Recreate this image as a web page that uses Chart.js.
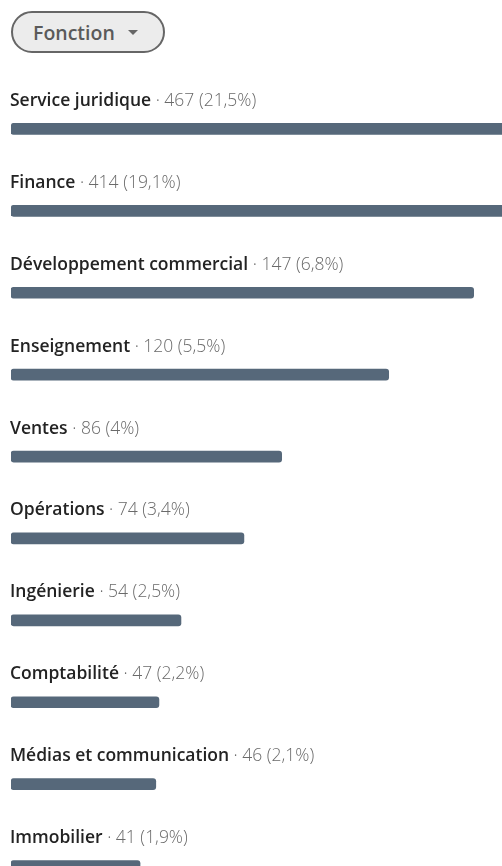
<!DOCTYPE html>
<html>
<head>
<meta charset="utf-8">
<script src="https://cdn.jsdelivr.net/npm/chart.js@4.4.0/dist/chart.umd.min.js"></script>
<style>
  html, body { margin: 0; padding: 0; background: #fff; width: 502px; height: 866px; overflow: hidden; }
  #filter {
    position: absolute; left: 11px; top: 11px; width: 150px; height: 38px;
    box-sizing: content-box; border: 2px solid #666; border-radius: 22px; background: #ececec;
    font: 600 19.5px "Open Sans", sans-serif; color: #5a5a5a;
    display: flex; align-items: center; padding: 0;
  }
  #filter span { margin-left: 20px; }
  #filter i {
    display: inline-block; margin-left: 13px; margin-top: 1px; width: 0; height: 0;
    border-left: 5px solid transparent; border-right: 5px solid transparent; border-top: 5px solid #666;
  }
  #wrap { position: absolute; left: 0; top: 88px; width: 502px; height: 819px; }
</style>
</head>
<body>
<div id="filter"><span>Fonction</span><i></i></div>
<div id="wrap"><canvas id="c"></canvas></div>
<script>
const categories = ["Service juridique", "Finance", "Développement commercial", "Enseignement", "Ventes",
  "Opérations", "Ingénierie", "Comptabilité", "Médias et communication", "Immobilier"];
const counts = [467, 414, 147, 120, 86, 74, 54, 47, 46, 41];
const shares = ["21,5%", "19,1%", "6,8%", "5,5%", "4%", "3,4%", "2,5%", "2,2%", "2,1%", "1,9%"];

// draws "Name · n (x%)" above each bar
const rowLabels = {
  id: "rowLabels",
  afterDatasetsDraw(chart) {
    const ctx = chart.ctx;
    const y = chart.scales.y;
    const left = 10;
    ctx.save();
    ctx.textBaseline = "alphabetic";
    categories.forEach((name, i) => {
      const base = y.getPixelForValue(i) - 23;
      ctx.font = '600 17.5px "Open Sans", sans-serif';
      ctx.fillStyle = "#232323";
      ctx.fillText(name, left, base);
      const w = ctx.measureText(name).width;
      ctx.font = '300 17.5px "Open Sans", sans-serif';
      ctx.fillStyle = "#6a6a6a";
      ctx.fillText(" · " + counts[i] + " (" + shares[i] + ")", left + w, base);
    });
    ctx.restore();
  }
};

new Chart(document.getElementById("c"), {
  type: "bar",
  data: {
    labels: categories,
    datasets: [{
      data: counts,
      backgroundColor: "#56687a",
      barThickness: 11,
      borderRadius: 3,
      borderSkipped: false
    }]
  },
  options: {
    indexAxis: "y",
    responsive: true,
    maintainAspectRatio: false,
    animation: false,
    layout: { padding: { left: 11, right: 0, top: 0, bottom: 0 } },
    plugins: { legend: { display: false }, tooltip: { enabled: false } },
    scales: {
      x: { display: false, min: 0, max: 156 },
      y: { display: false, offset: true }
    }
  },
  plugins: [rowLabels]
});
</script>
</body>
</html>
